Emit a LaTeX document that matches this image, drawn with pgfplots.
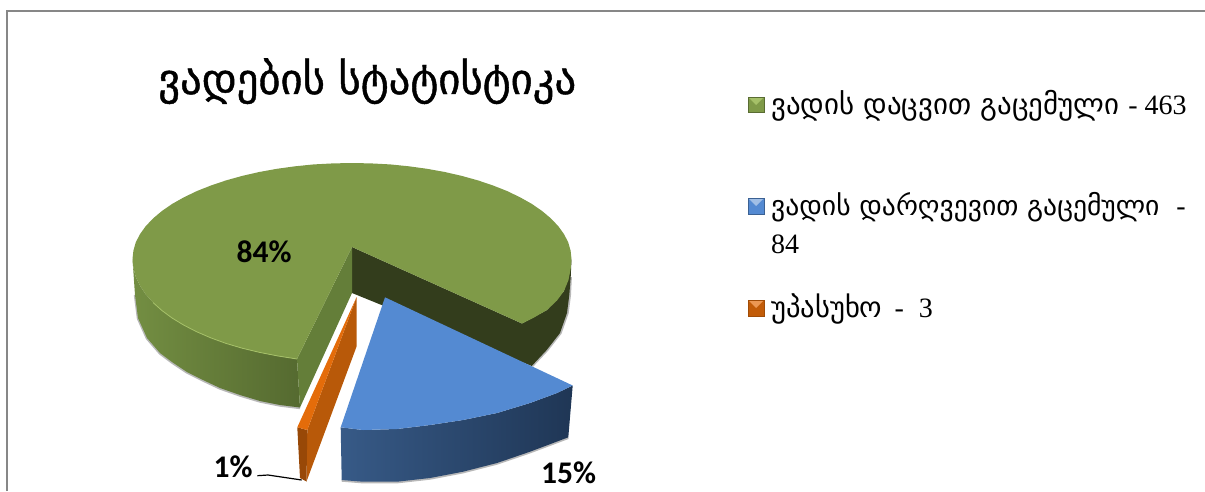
\documentclass[border=0pt]{standalone}
\usepackage{pgfplots}
\pgfplotsset{compat=1.18}
\usepackage{fontspec}
\setmainfont{DejaVu Serif}
\newfontfamily\geo{DejaVu Sans}
\newfontfamily\geot[FakeBold=1]{DejaVu Sans}
\newfontfamily\lat{Liberation Serif}
\newfontfamily\lab{Carlito}[BoldFont={Carlito Bold}]
\definecolor{gTop}{HTML}{7F9A48}
\definecolor{gSideL}{HTML}{738E42}
\definecolor{gSideR}{HTML}{556A30}
\definecolor{gCut}{HTML}{647E39}
\definecolor{gDark}{HTML}{333D1C}
\definecolor{gEdge}{HTML}{A5C068}
\definecolor{bTop}{HTML}{548AD2}
\definecolor{bSideL}{HTML}{375A87}
\definecolor{bSideR}{HTML}{1F3655}
\definecolor{oTop}{HTML}{E46C0A}
\definecolor{oIn}{HTML}{B85909}
\definecolor{oOut}{HTML}{984807}
\begin{document}
\begin{tikzpicture}
\begin{axis}[
  scale only axis, width=1205pt, height=491pt,
  xmin=0, xmax=1205, ymin=0, ymax=491, y dir=reverse,
  axis line style={draw=none}, ticks=none, clip=true,
]
\path (axis cs:0,0) rectangle (axis cs:1205,491);
% frame
\addplot[color=black!47, line width=2pt] coordinates {(6.5,491) (6.5,11) (1205,11)};
% soft shadows
\addplot[color=black!28, line width=2.4pt, line join=round] coordinates {(135,295) (138,318.5) (147,338.5) (160,353.5) (172,362.5) (187,372.5) (203,380.5) (220,388.5) (240,395.5) (260,401.5) (280,405.5) (300,408)};
\addplot[color=black!28, line width=2.4pt, line join=round] coordinates {(570.7,277) (569.8,295) (567.5,313) (560.5,333) (547.2,350) (532.2,366)};
\addplot[color=black!28, line width=2.4pt, line join=round] coordinates {(341.7,480.5) (363,482.2) (397,482.2) (430,478.5) (463,472.2) (497,463.5) (530,452.2) (568.3,437.8)};
% green outer side
\addplot[left color=gSideL, right color=gSideR, draw=none] coordinates {
(132.5,259) (133.4,268) (135.8,276.9) (140,285.7) (145.7,294.2) (153.1,302.6) (161.9,310.5) (172.2,318.1) (183.9,325.2) (196.8,331.8) (210.9,337.9) (226,343.4) (242.2,348.2) (259.2,352.3) (276.9,355.8) (297,359)
(300,407.5) (280,405) (260,401) (240,395) (220,388) (203,380) (187,372) (172,362) (160,353) (147,338) (138,318) (135,295)} --cycle;
% green dark inner and right side
\addplot[fill=gDark, draw=none] coordinates {
(352,247) (522,323.5) (547,310) (564,291) (571.5,259) (570.7,277) (569.3,295) (567,313) (560,333) (546.7,350) (531.7,366) (352,293)} --cycle;
% green cut face
\addplot[fill=gCut, draw=none] coordinates {(352,247) (297,359) (300,407.5) (352,293)} --cycle;
% green top
\addplot[fill=gTop, draw=none] coordinates {
(352,247) (522,323.5) (534,317.5) (547,310) (557,300.5) (564,291) (568.5,280) (570.8,268) (571.5,259) (570.6,250.6) (568.2,242.3) (564,234.1) (558.3,226.2) (550.9,218.4) (542.1,211) (531.8,203.9) (520.1,197.3) (507.2,191.1) (493.1,185.5) (478,180.4) (461.8,175.9) (444.8,172) (427.1,168.8) (408.9,166.3) (390.2,164.4) (371.1,163.4) (352,163) (332.9,163.4) (313.8,164.4) (295.1,166.3) (276.9,168.8) (259.2,172) (242.2,175.9) (226,180.4) (210.9,185.5) (196.8,191.1) (183.9,197.3) (172.2,203.9) (161.9,211) (153.1,218.4) (145.7,226.2) (140,234.1) (135.8,242.3) (133.4,250.6) (132.5,259) (133.4,268) (135.8,276.9) (140,285.7) (145.7,294.2) (153.1,302.6) (161.9,310.5) (172.2,318.1) (183.9,325.2) (196.8,331.8) (210.9,337.9) (226,343.4) (242.2,348.2) (259.2,352.3) (276.9,355.8) (297,359)} --cycle;
\addplot[color=gEdge, line width=0.8pt] coordinates {
(153.1,302.6) (161.9,310.5) (172.2,318.1) (183.9,325.2) (196.8,331.8) (210.9,337.9) (226,343.4) (242.2,348.2) (259.2,352.3) (276.9,355.8) (297,359)};
% orange
\addplot[fill=oIn, draw=none] coordinates {(356.5,297.3) (356.5,346.7) (306.5,481.5) (307.3,430)} --cycle;
\addplot[fill=oOut, draw=none] coordinates {(297.3,427.3) (307.3,430) (306.5,481.5) (300,478)} --cycle;
\addplot[fill=oTop, draw=none] coordinates {(356.5,297.3) (297.3,427.3) (307.3,430)} --cycle;
% blue side
\addplot[left color=bSideL, right color=bSideR, draw=none] coordinates {
(340.7,427.3) (363,430) (397,429) (430,425) (463,420) (497,413) (530,403) (557,393) (572.7,385.5) (568.3,437.3) (530,451.7) (497,463) (463,471.7) (430,478) (397,481.7) (363,481.7) (341.7,480)} --cycle;
% blue top
\addplot[fill=bTop, draw=none] coordinates {
(385,297.3) (572.7,385.5) (557,393) (530,403) (497,413) (463,420) (430,425) (397,429) (363,430) (340.7,427.3)} --cycle;
% leader
\addplot[color=black, line width=1.2pt] coordinates {(257.3,475.7) (268,475) (301.7,480)};
% legend swatches
\addplot[fill=gTop, draw=gTop!70!black, line width=0.5pt] coordinates {(748,97) (764,97) (764,112) (748,112)} --cycle;
\addplot[fill=gEdge, draw=none] coordinates {(749,98) (763,98) (756,105)} --cycle;
\addplot[fill=bTop, draw=bTop!70!black, line width=0.5pt] coordinates {(748,198) (764,198) (764,214) (748,214)} --cycle;
\addplot[fill=bTop!55!white, draw=none] coordinates {(749,199) (763,199) (756,206)} --cycle;
\addplot[fill=oTop!85!black, draw=oTop!70!black, line width=0.5pt] coordinates {(748,300) (764,300) (764,316) (748,316)} --cycle;
\addplot[fill=oTop!70!white, draw=none] coordinates {(749,301) (763,301) (756,308)} --cycle;
% text
\node[anchor=base west, inner sep=0pt, font=\geot\fontsize{42.7}{44}\selectfont] at (axis cs:158,94) {ვადების სტატისტიკა};
\node[anchor=base west, inner sep=0pt, font=\geo\fontsize{28.9}{30}\selectfont] at (axis cs:771,114) {ვადის დაცვით გაცემული {\lat\fontsize{28}{30}\selectfont - 463}};
\node[anchor=base west, inner sep=0pt, font=\geo\fontsize{27.6}{30}\selectfont] at (axis cs:771,215) {ვადის დარღვევით გაცემული\hspace{8pt} {\lat\fontsize{28}{30}\selectfont -}};
\node[anchor=base west, inner sep=0pt, font=\lat\fontsize{28}{30}\selectfont] at (axis cs:771,253) {84};
\node[anchor=base west, inner sep=0pt, font=\geo\fontsize{28.6}{30}\selectfont] at (axis cs:771,317) {უპასუხო {\lat\fontsize{28}{30}\selectfont\hspace{3pt}-\hspace{8pt} 3}};
\node[anchor=base west, inner sep=0pt, font=\lab\bfseries\fontsize{31.5}{31.5}\selectfont] at (axis cs:236.5,262) {84\%};
\node[anchor=base west, inner sep=0pt, font=\lab\bfseries\fontsize{31.5}{31.5}\selectfont] at (axis cs:541,483) {15\%};
\node[anchor=base west, inner sep=0pt, font=\lab\bfseries\fontsize{31.5}{31.5}\selectfont] at (axis cs:213.5,477) {1\%};
\end{axis}
\end{tikzpicture}
\end{document}
